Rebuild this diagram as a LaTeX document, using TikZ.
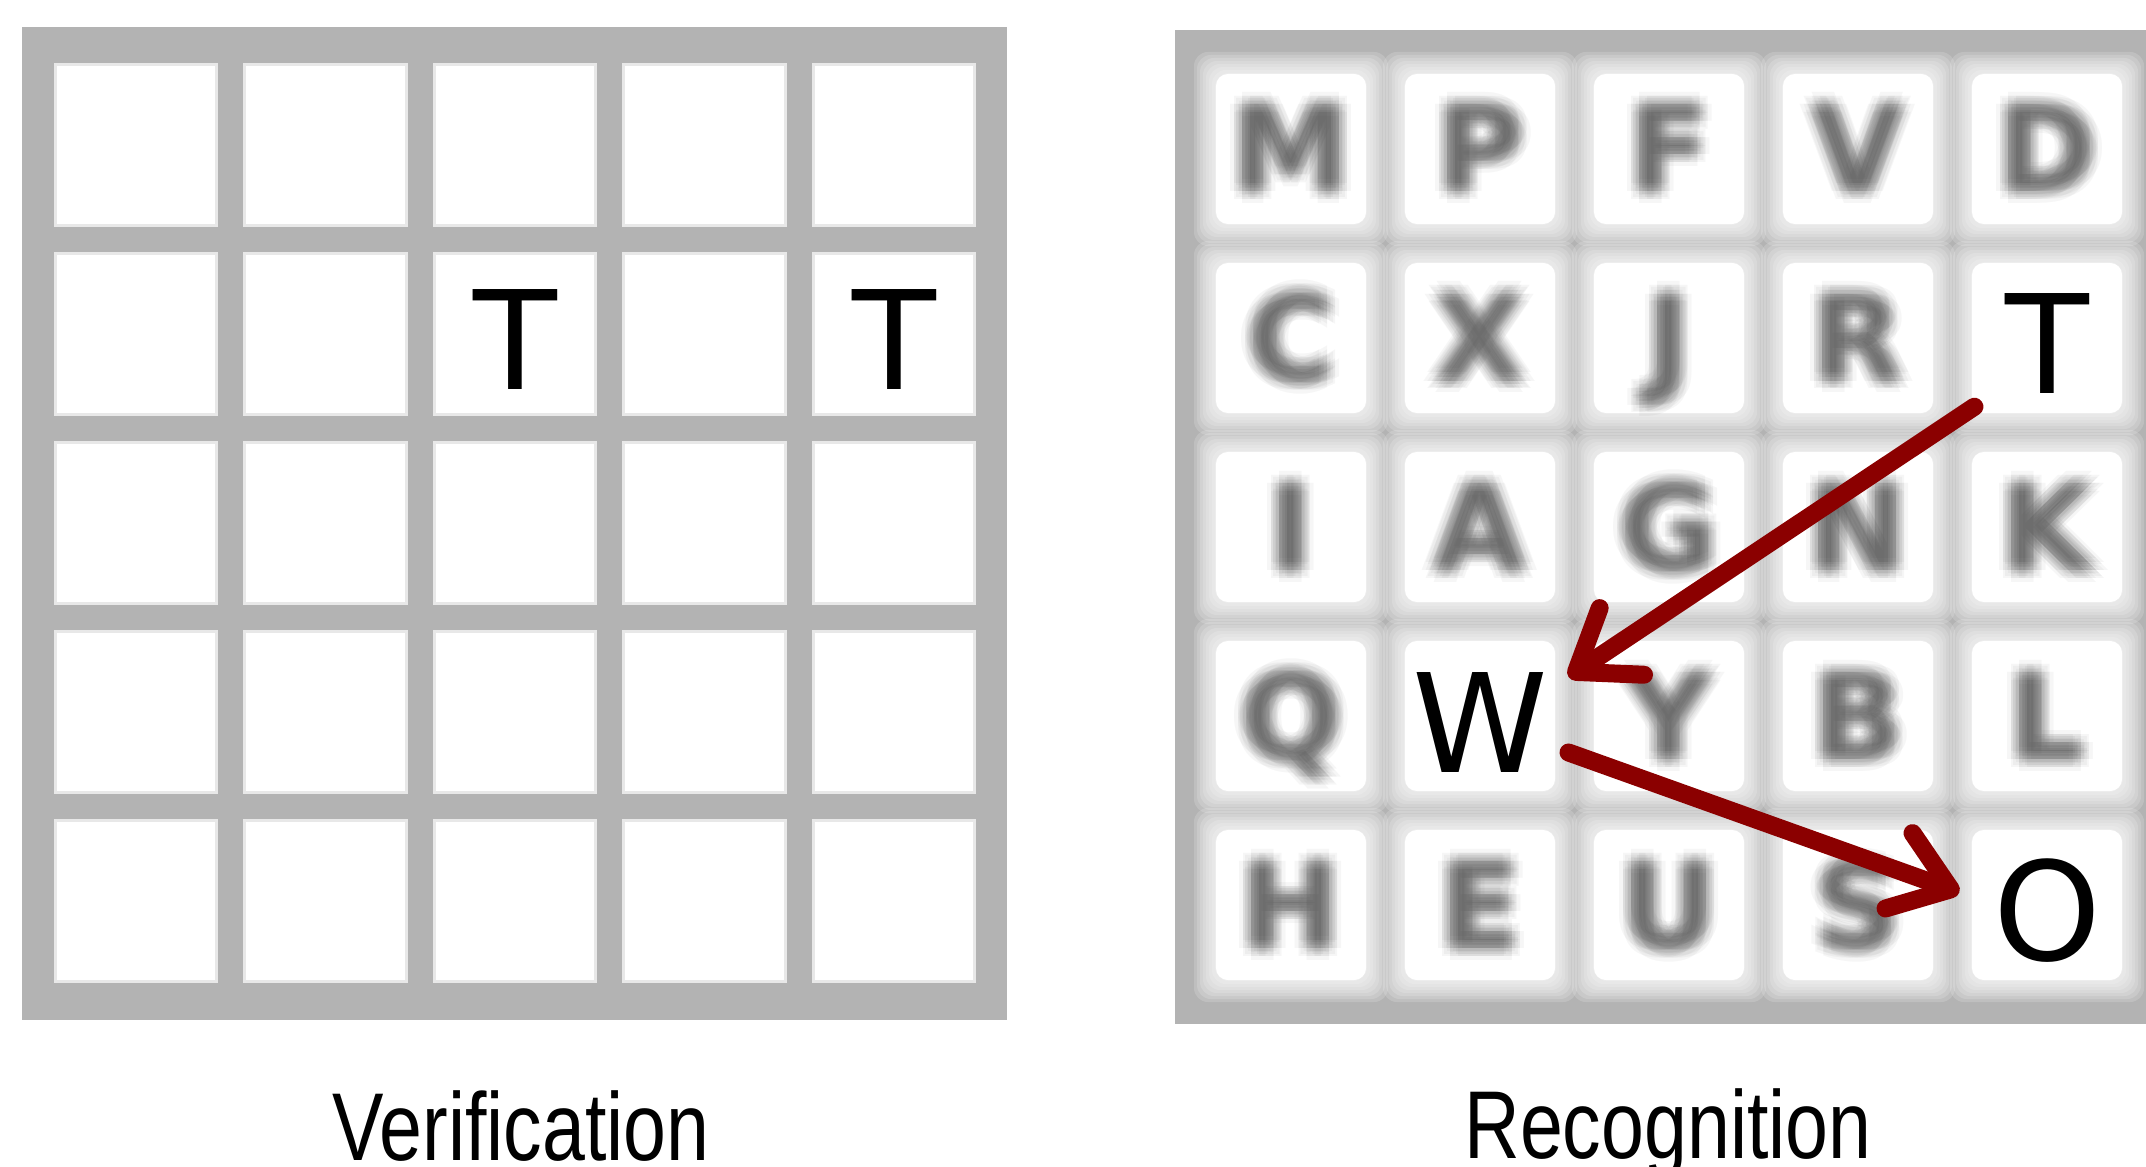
\documentclass[tikz,border=0pt]{standalone}
\usepackage{fontspec}
\usepackage{tikz}
\usetikzlibrary{arrows.meta,positioning}
\setmainfont{DejaVu Sans}
\newfontfamily\capfont[FakeStretch=0.8]{Liberation Sans}
\newfontfamily\letterfont{DejaVu Sans}
\definecolor{framegray}{RGB}{179,179,179}
\definecolor{arrowred}{RGB}{139,0,0}

\begin{document}
\begin{tikzpicture}[
        x=0.01cm, y=-0.01cm,
        frame/.style={rectangle, fill=framegray, inner sep=0pt, minimum width=9.85cm, minimum height=9.93cm},
        vcell/.style={rectangle, fill=white, draw=black!9, line width=0.03cm, minimum size=1.61cm, inner sep=0pt},
        rcell/.style={rectangle, fill=white, rounded corners=0.12cm, minimum size=1.50cm, inner sep=0pt},
        sharp/.style={inner sep=0pt, yshift=-0.06cm, font=\letterfont\fontsize{39}{39}\selectfont},
        fuzz/.style={anchor=base, inner sep=0pt, text=black!85, text opacity=0.038, font=\letterfont\bfseries\fontsize{34}{34}\selectfont},
        caption/.style={anchor=base, inner sep=0pt, font=\capfont\fontsize{27.4}{30}\selectfont},
        link/.style={draw=arrowred, line width=0.18cm, line cap=round, -{Straight Barb[round, length=0.55cm, width=0.8cm]}}
    ]
        \useasboundingbox (0,0) rectangle (2146,1167);

        % Frames
        \node[frame] (vgrid) at (514.5,523.5) {};
        \node[frame] (rgrid) at (1667.5,527) {};

        % Verification cells
        \foreach \row in {1,...,5}
            \foreach \col in {1,...,5}
                \node[vcell] (v\row\col) at ({136+(\col-1)*189.5},{145+(\row-1)*189}) {};

        % Recognition cells, soft edges
        \foreach \row in {1,...,5}
            \foreach \col in {1,...,5} {
                \foreach \h in {97,94,...,76}
                    \fill[white, opacity=0.17, rounded corners=0.14cm]
                        ({1291+(\col-1)*189-\h},{149+(\row-1)*189-\h}) rectangle
                        ({1291+(\col-1)*189+\h},{149+(\row-1)*189+\h});
                \node[rcell] (r\row\col) at ({1291+(\col-1)*189},{149+(\row-1)*189}) {};
            }

        % Blurred letters
        \foreach \row/\col/\ch in {1/1/M,1/2/P,1/3/F,1/4/V,1/5/D,2/1/C,2/2/X,2/3/J,2/4/R,
                3/1/I,3/2/A,3/3/G,3/4/N,3/5/K,4/1/Q,4/3/Y,4/4/B,4/5/L,5/1/H,5/2/E,5/3/U,5/4/S}
            \foreach \k/\dx/\dy in {0/0/0,1/4/0,2/-4/0,3/0/4,4/0/-4,5/3/3,6/3/-3,7/-3/3,8/-3/-3,
                    9/8/0,10/-8/0,11/0/8,12/0/-8,13/6/6,14/6/-6,15/-6/6,16/-6/-6,
                    17/12/0,18/-12/0,19/0/12,20/0/-12,21/8/8,22/8/-8,23/-8/8,24/-8/-8}
                \node[fuzz] (b\row\col-\k) at ({1291+(\col-1)*189+\dx},{192+(\row-1)*189+\dy}) {\ch};

        % Sharp letters
        \node[sharp] (vTa) at (v23) {T};
        \node[sharp] (vTb) at (v25) {T};
        \node[sharp, inner xsep=0.3cm, inner ysep=0.12cm] (rT) at (r25) {T};
        \node[sharp, inner xsep=0.2cm] (rW) at (r42) {W};
        \node[sharp, inner xsep=0.33cm] (rO) at (r55) {O};

        % Connections
        \draw[link] (rT.south west) -- (rW.27);
        \draw[link] (rW.-19) -- (rO.168);

        % Captions
        \node[caption] (vcap) at (521,1160) {Verification};
        \node[caption] (rcap) at (1668,1158) {Recognition};

    \end{tikzpicture}
\end{document}
